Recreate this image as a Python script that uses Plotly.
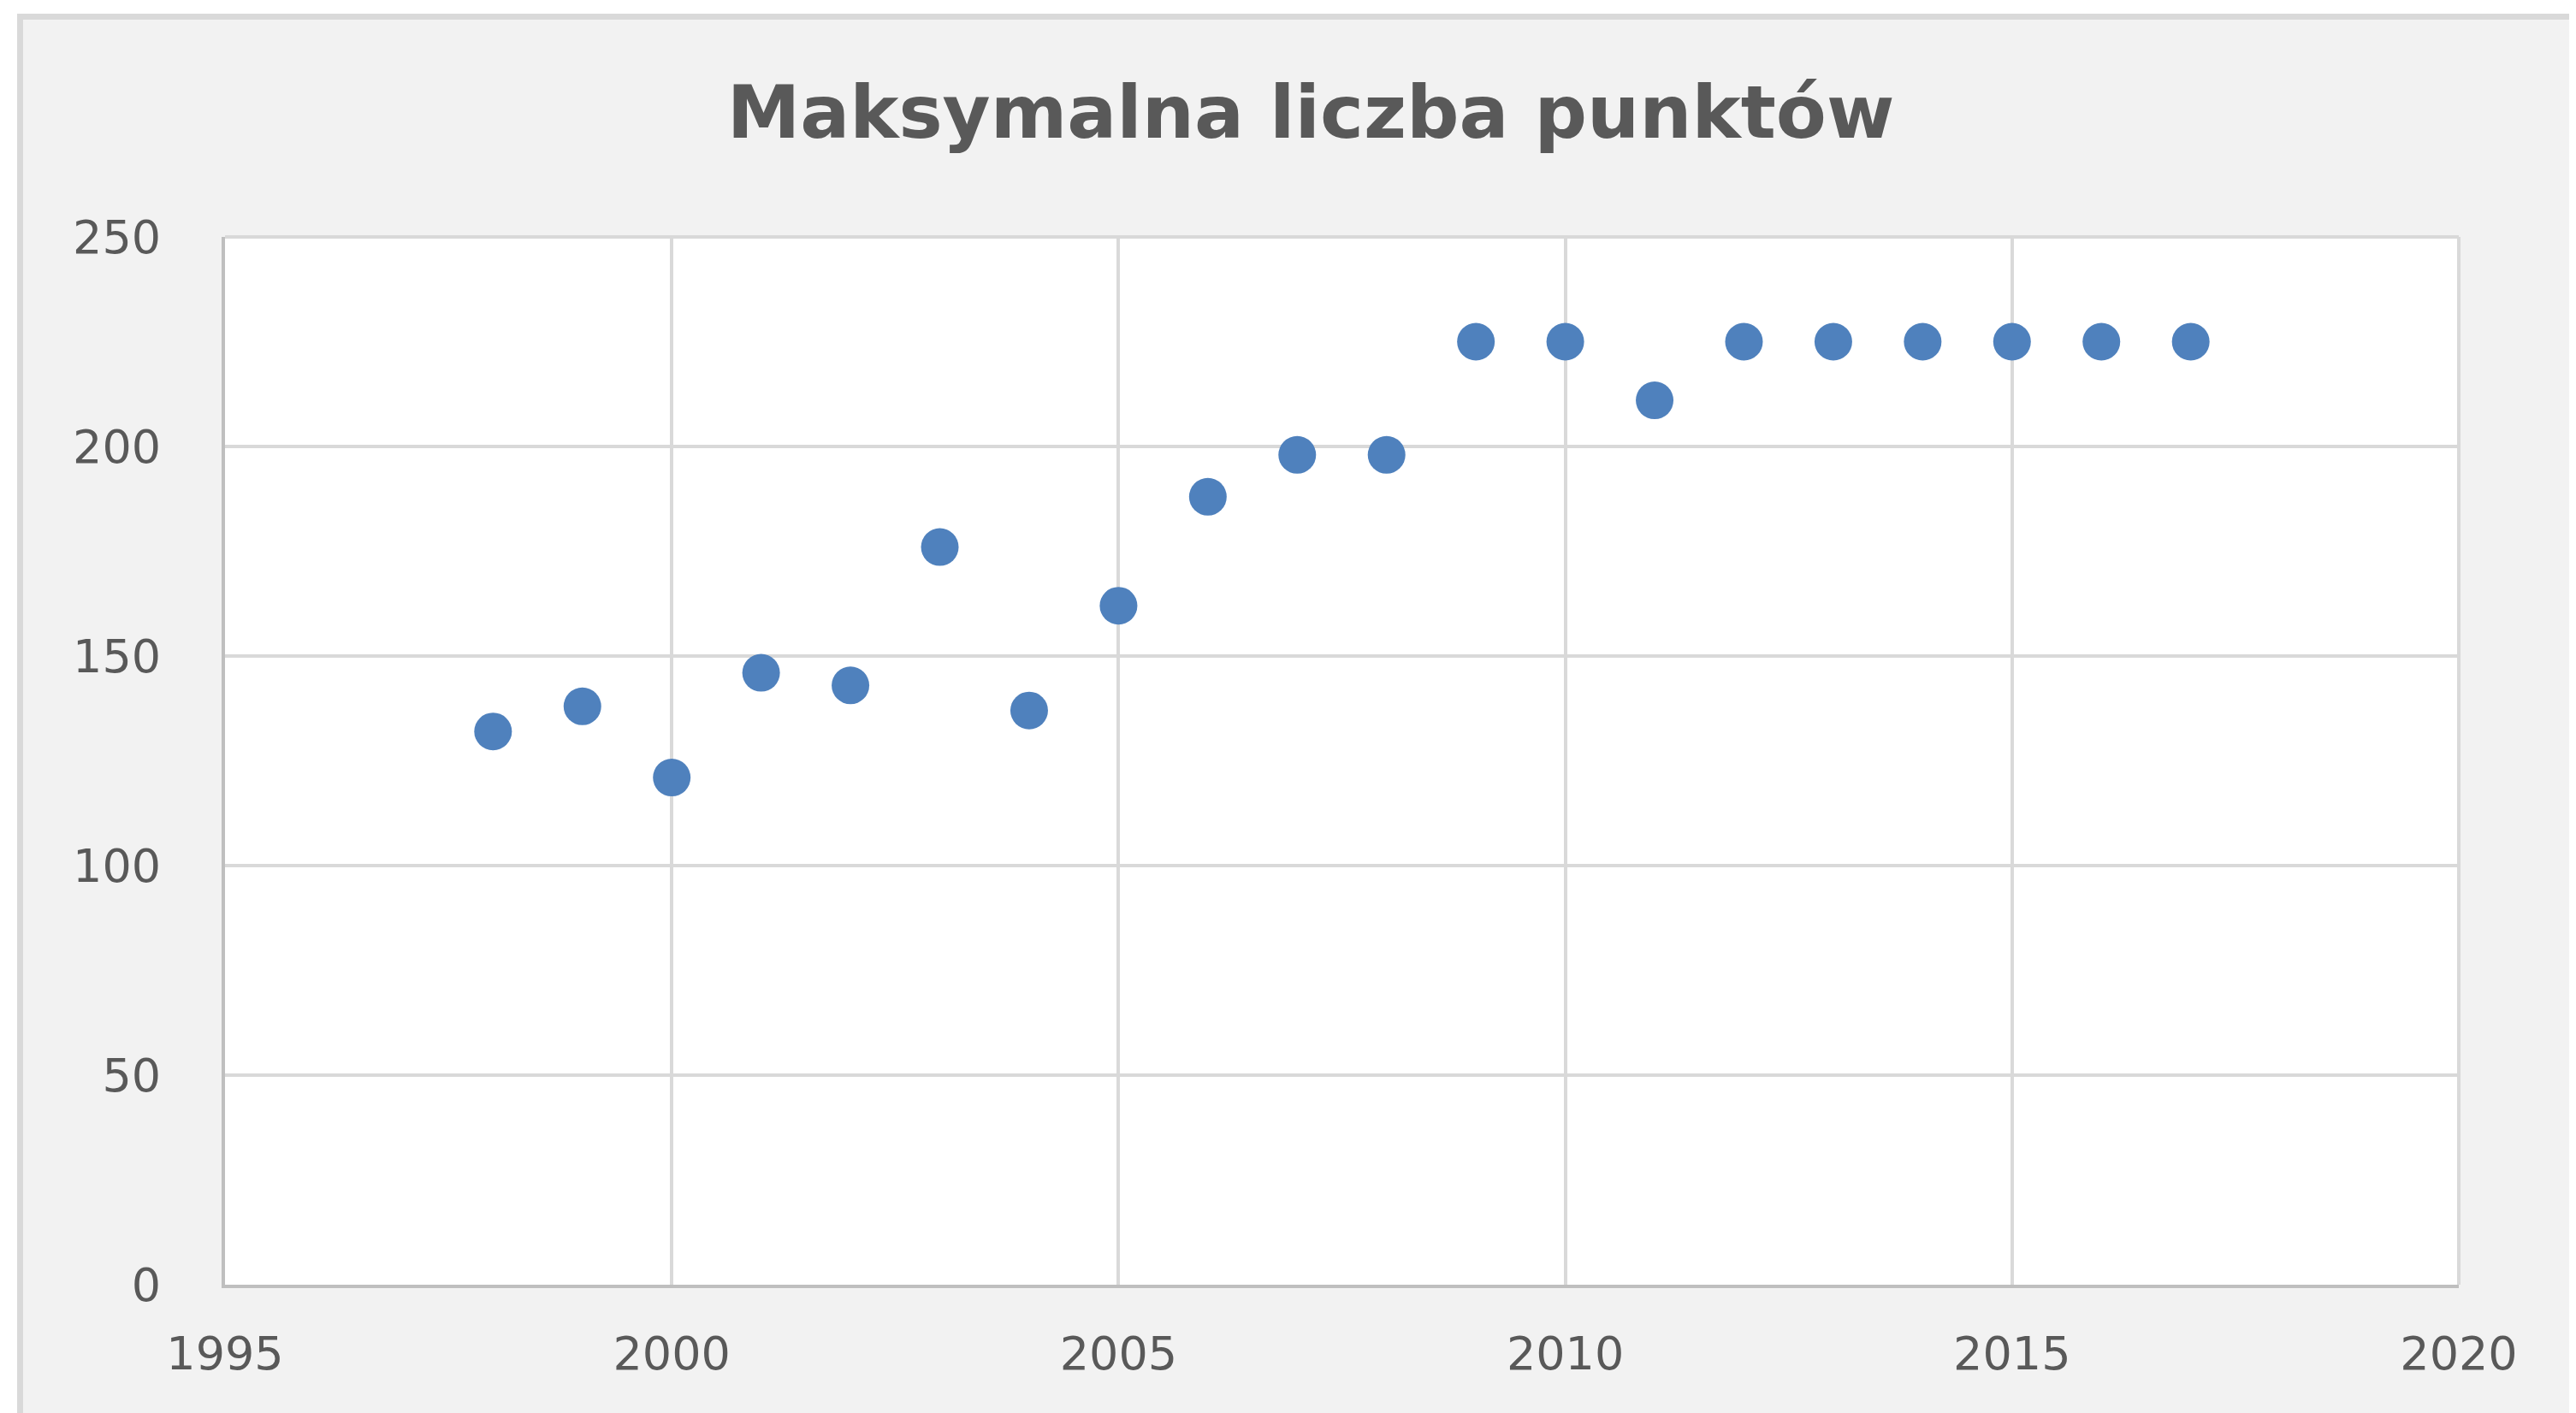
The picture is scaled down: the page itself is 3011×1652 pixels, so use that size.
import plotly.graph_objects as go

years = [1998, 1999, 2000, 2001, 2002, 2003, 2004, 2005, 2006, 2007,
         2008, 2009, 2010, 2011, 2012, 2013, 2014, 2015, 2016, 2017]
max_points = [132, 138, 121, 146, 143, 176, 137, 162, 188, 198,
              198, 225, 225, 211, 225, 225, 225, 225, 225, 225]
title_text = "Maksymalna liczba punktów"
x_ticks = [1995, 2000, 2005, 2010, 2015, 2020]
y_ticks = [0, 50, 100, 150, 200, 250]

OFF = 8  # default page body margin
W, H = 3011 - OFF, 1652 - OFF
L, T = 263 - OFF, 277 - OFF
R = W - (2874 - OFF)
B = H - (1502 - OFF)
pw, ph = W - L - R, H - T - B

FONT = "DejaVu Sans"

fig = go.Figure()
fig.add_trace(go.Scatter(
    x=years, y=max_points, mode="markers",
    marker=dict(size=44, color="#4f81bd", line=dict(width=0)),
    showlegend=False,
))

# white strips outside the chart frame (top and left)
fig.add_shape(type="rect", xref="paper", yref="paper",
              x0=-(L + 20) / pw, x1=(W + 20 - L) / pw,
              y0=(ph + T - (19.5 - OFF)) / ph, y1=(ph + T + 20) / ph,
              line=dict(width=0), fillcolor="white", layer="above")
fig.add_shape(type="rect", xref="paper", yref="paper",
              x0=-(L + 20) / pw, x1=((23.5 - OFF) - L) / pw,
              y0=-(B + 20) / ph, y1=(ph + T + 20) / ph,
              line=dict(width=0), fillcolor="white", layer="above")
# chart frame border
fig.add_shape(type="rect", xref="paper", yref="paper",
              x0=((23.5 - OFF) - L) / pw, x1=(W + 20 - L) / pw,
              y0=-(B + 20) / ph, y1=(ph + T - (19.5 - OFF)) / ph,
              line=dict(color="#d9d9d9", width=7), fillcolor="rgba(0,0,0,0)",
              layer="above")
# plot area top and right borders
fig.add_shape(type="line", xref="paper", yref="paper", x0=0, x1=1, y0=1, y1=1,
              line=dict(color="#d9d9d9", width=4), layer="below")
fig.add_shape(type="line", xref="paper", yref="paper", x0=1, x1=1, y0=0, y1=1,
              line=dict(color="#d9d9d9", width=4), layer="below")

fig.update_layout(
    width=W, height=H,
    margin=dict(l=L, r=R, t=T, b=B),
    paper_bgcolor="#f2f2f2",
    plot_bgcolor="white",
    title=dict(text=title_text, x=(1532 - OFF) / W, xanchor="center",
               y=1 - (131 - OFF) / H, yanchor="middle", yref="container",
               font=dict(family=FONT, size=86, color="#595959", weight="bold")),
    font=dict(family=FONT, color="#595959", size=54),
)
fig.update_xaxes(range=[1995, 2020], tickvals=x_ticks, showgrid=True,
                 gridcolor="#d9d9d9", gridwidth=4, showline=True,
                 linecolor="#bfbfbf", linewidth=4, zeroline=False,
                 ticks="", ticklabelstandoff=30,
                 tickfont=dict(family=FONT, size=54, color="#595959"))
fig.update_yaxes(range=[0, 250], tickvals=y_ticks, showgrid=True,
                 gridcolor="#d9d9d9", gridwidth=4, showline=True,
                 linecolor="#bfbfbf", linewidth=4, zeroline=False,
                 ticks="", ticklabelstandoff=60,
                 tickfont=dict(family=FONT, size=54, color="#595959"))

fig.write_html("out.html")
